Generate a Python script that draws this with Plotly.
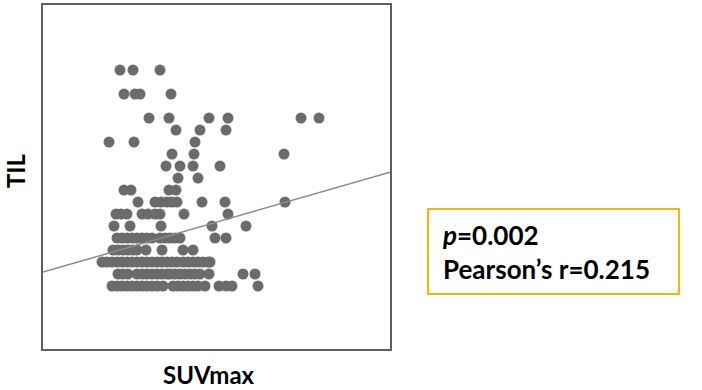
import plotly.graph_objects as go

# SUVmax values (x) and TIL values (y)
suv_95 = [7.7, 9.0, 11.7]
suv_85 = [8.1, 9.2, 9.7, 12.8]
suv_75 = [10.6, 12.6, 16.6, 18.5, 25.8, 27.6]
suv_70 = [13.3, 15.7, 18.3]
suv_65 = [6.6, 9.1, 15.2]
suv_60 = [12.9, 15.1, 24.1]
suv_55 = [12.3, 13.7, 15.0, 17.7]
suv_50 = [13.5, 15.5]
suv_45 = [8.1, 8.8, 12.6, 13.3]
suv_40 = [9.5, 11.2, 11.8, 12.4, 12.9, 13.4, 15.9, 18.2, 24.2]
suv_35 = [7.3, 7.8, 8.4, 9.9, 10.5, 11.2, 11.7, 14.1, 18.5]
suv_30 = [7.1, 8.7, 11.8, 16.9, 20.3]
suv_25 = [7.4, 7.9, 8.4, 8.9, 9.4, 9.9, 10.4, 10.9, 11.7, 12.2, 12.7, 13.2, 13.7, 17.2, 18.3]
suv_20 = [7.0, 7.5, 8.0, 8.5, 9.0, 9.4, 10.3, 11.9, 14.0, 15.0]
suv_15 = [5.9, 6.4, 6.9, 7.4, 7.9, 8.4, 8.9, 9.4, 9.9, 10.4, 10.9, 11.4, 11.9, 12.4, 12.9, 13.4,
          14.0, 14.5, 15.0, 15.5, 16.0, 16.5, 16.7]
suv_10 = [7.5, 8.0, 8.5, 9.4, 9.9, 10.4, 10.9, 11.4, 11.9, 12.4, 12.7, 13.2, 13.7, 14.2, 14.7,
          15.2, 15.7, 16.6, 20.0, 21.2]
suv_5 = [6.9, 7.4, 7.9, 8.4, 8.9, 9.4, 9.9, 10.4, 10.9, 11.4, 12.0, 13.0, 13.5, 14.0, 14.5,
         15.0, 15.5, 16.2, 17.6, 18.3, 18.9, 21.5]

til_levels = [95, 85, 75, 70, 65, 60, 55, 50, 45, 40, 35, 30, 25, 20, 15, 10, 5]
suv_rows = [suv_95, suv_85, suv_75, suv_70, suv_65, suv_60, suv_55, suv_50, suv_45,
            suv_40, suv_35, suv_30, suv_25, suv_20, suv_15, suv_10, suv_5]

# Fit line (as shown in the picture)
line_intercept = 10.8
line_slope = 1.2

x_range = [0, 34.7]
y_range = [-21.25, 122.1]

xs, ys = [], []
for lvl, row in zip(til_levels, suv_rows):
    xs.extend(row)
    ys.extend([lvl] * len(row))

fig = go.Figure()
fig.add_trace(go.Scatter(
    x=xs, y=ys, mode="markers",
    marker=dict(size=11, color="#6b6b6b", line=dict(width=0)),
    showlegend=False, hoverinfo="skip"))
fig.add_trace(go.Scatter(
    x=x_range, y=[line_intercept + line_slope * v for v in x_range],
    mode="lines", line=dict(color="#8c8c8c", width=1.5),
    showlegend=False, hoverinfo="skip"))

axis_style = dict(showgrid=False, zeroline=False, showticklabels=False, ticks="",
                  showline=True, mirror=True, linecolor="#5f5f5f", linewidth=1.5,
                  automargin=False)
fig.update_xaxes(range=x_range, **axis_style)
fig.update_yaxes(range=y_range, **axis_style)

title_font = dict(family="Lato", size=24, color="#000")
fig.add_annotation(xref="paper", yref="paper", x=0.478, y=-0.0727, xanchor="center",
                   yanchor="middle", showarrow=False, text="<b>SUVmax</b>", font=title_font)
fig.add_annotation(xref="paper", yref="paper", x=-0.0807, y=0.52, xanchor="center",
                   yanchor="middle", showarrow=False, text="<b>TIL</b>", textangle=-90,
                   font=title_font)

fig.add_shape(type="rect", xref="paper", yref="paper",
              x0=1.1095, x1=1.833, y0=0.160, y1=0.407,
              line=dict(color="#f2b705", width=2), fillcolor="rgba(0,0,0,0)")
fig.add_annotation(xref="paper", yref="paper", x=1.143, y=0.283, xanchor="left", yanchor="middle",
                   align="left", showarrow=False,
                   text="<b><i>p</i>=0.002</b><br><b>Pearson’s r=0.215</b>",
                   font=dict(family="Lato", size=26, color="#000"))

fig.update_layout(width=702, height=390, margin=dict(l=43, r=312, t=5, b=41),
                  plot_bgcolor="white", paper_bgcolor="white")
fig.write_html("out.html", config={"displayModeBar": False},
               post_script="document.body.style.margin='0';")
